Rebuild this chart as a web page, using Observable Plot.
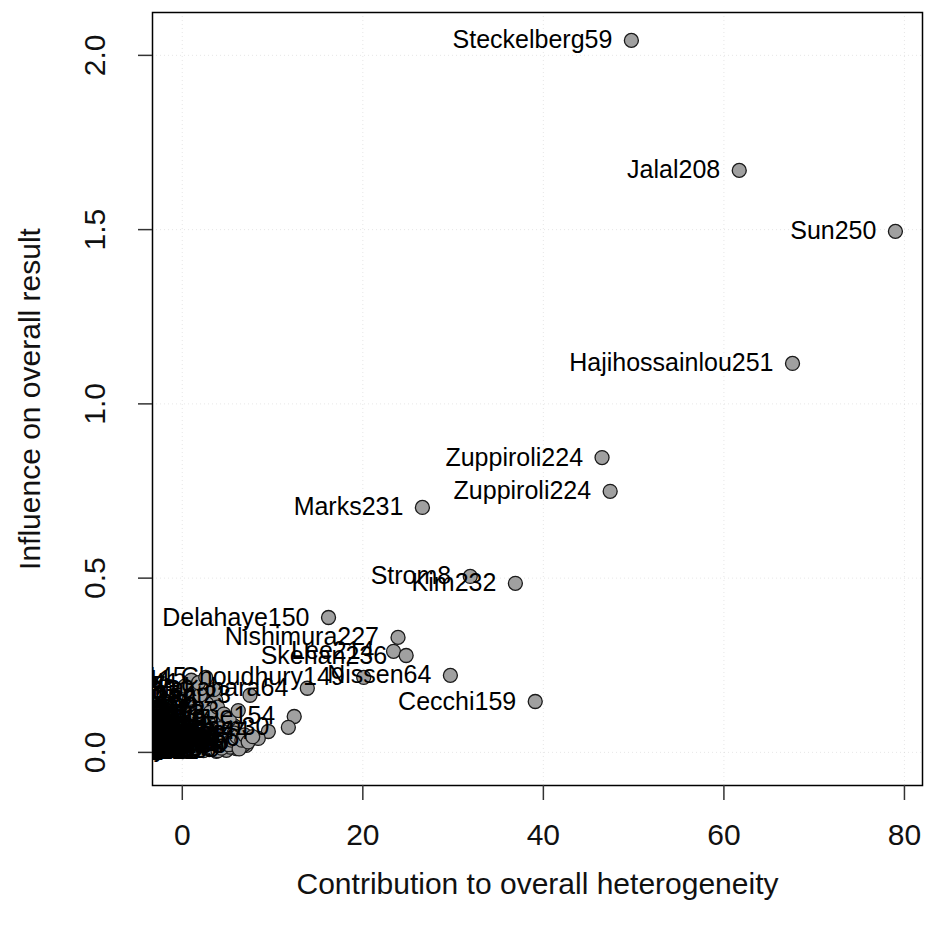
<!DOCTYPE html>
<html><head><meta charset="utf-8">
<script src="https://cdn.jsdelivr.net/npm/d3@7"></script>
<script src="https://cdn.jsdelivr.net/npm/@observablehq/plot@0.6"></script>
<style>body{margin:0;background:#fff}</style>
</head><body><div id="chart"></div>
<script>
const studies = [
  "Steckelberg59","Jalal208","Sun250","Hajihossainlou251","Zuppiroli224","Zuppiroli224","Marks231",
  "Strom8","Kim232","Delahaye150","Nishimura227","Lee214","Skehan236","Nissen64","Choudhury149","Cecchi159",
  "Nakahara64","Renaut23","Duque154","Desai11","Lam30","Muir44","Novak66","Oka90","Pires99","Rudd105","Seo111",
  "Bayer12","Chen37","Dahl41","Egan45","Fox52","Gomez58","Hart63","Ito71","Jones77","Khan82","Lopez88","Moss93",
  "Nagy97","Ortiz102","Park106","Quinn110","Rossi115","Singh119","Tan123","Ueda127","Vega131","Wong135","Xu139",
  "Yang143","Zhou147","Abe152","Berg156","Cruz161","Diaz165","Ellis169","Faro173","Gill177","Holm181","Iyer185",
  "Jain189","Kato193","Lund197","Mori201","Noor205","Olsen209","Pham213","Reis217","Sato221","Toth226","Urbe229",
  "Voss233","Wahl237","Yoon241","Zhang245","Amin249",
  "Adams3","Baker5","Clark7","Davis9","Evans13","Ford15","Grant17","Hill19","Irwin21","James25",
  "King27","Lewis29","Mills31","Nash33","Owen35","Price39","Reed43","Shaw47","Todd49","Vance51",
  "Ward53","York55","Allen57","Brown61","Cole65","Dunn67","Elias69","Frost73","Gray75","Hayes79",
  "Ives81","Jung83","Kerr85","Lowe87","Marsh89","Nolan91","Orr95","Pratt101","Rowe103","Sims107",
  "Tate109","Upton113","Vale117","West121","Young125","Zane129","Ames133","Bond137","Cobb141","Dean145"
];
const contribution = [
  49.75,61.7,79.0,67.6,46.5,47.4,26.6,
  31.9,36.9,16.2,23.9,23.4,24.8,29.7,20.1,39.1,
  13.85,7.5,12.4,1.0,11.75,9.53,8.42,7.09,5.98,4.88,3.77,
  0.05,0.2,0.4,0.6,0.8,1.0,1.2,1.4,1.6,1.8,2.0,2.2,
  2.4,2.6,2.8,3.0,3.2,3.4,3.6,3.9,4.1,4.4,4.7,
  5.0,5.3,5.6,6.0,6.4,6.8,0.1,0.3,0.7,0.9,1.3,
  1.7,2.1,2.5,2.9,3.3,0.5,1.1,1.9,4.3,3.7,0.2,
  1.5,-0.1,0.0,5.8,4.9,
  0.15,0.35,0.55,0.75,0.95,1.15,1.35,1.55,1.75,1.95,
  2.15,2.35,2.55,2.75,2.95,3.15,3.35,3.55,3.75,3.95,
  4.15,4.35,4.55,4.75,4.95,5.15,5.45,5.75,6.05,6.3,
  6.6,6.9,7.3,7.8,0.45,1.05,1.6,2.3,2.7,3.1,
  3.9,4.6,5.2,0.8,2.0,3.5,6.2,0.3,1.8,2.6
];
const influence = [
  2.043,1.670,1.495,1.116,0.846,0.749,0.703,
  0.505,0.485,0.387,0.330,0.290,0.278,0.221,0.215,0.146,
  0.184,0.164,0.103,0.207,0.072,0.060,0.040,0.020,0.011,0.006,0.003,
  0.002,0.010,0.004,0.018,0.007,0.025,0.012,0.035,0.005,0.028,0.045,0.015,
  0.060,0.022,0.038,0.008,0.052,0.030,0.070,0.018,0.042,0.026,0.058,
  0.034,0.015,0.048,0.028,0.040,0.022,0.040,0.065,0.050,0.085,0.072,
  0.095,0.080,0.110,0.090,0.125,0.120,0.140,0.130,0.100,0.150,0.160,
  0.175,0.020,0.090,0.075,0.085,
  0.030,0.045,0.028,0.060,0.012,0.050,0.020,0.065,0.010,0.070,
  0.030,0.005,0.050,0.012,0.065,0.025,0.010,0.040,0.055,0.005,
  0.068,0.012,0.030,0.045,0.060,0.022,0.035,0.055,0.045,0.010,
  0.035,0.050,0.030,0.045,0.095,0.110,0.125,0.100,0.140,0.115,
  0.130,0.110,0.095,0.155,0.165,0.180,0.120,0.190,0.200,0.215
];
const xTicks = [0, 20, 40, 60, 80];
const yTicks = [0, 0.5, 1.0, 1.5, 2.0];
const xTitle = "Contribution to overall heterogeneity";
const yTitle = "Influence on overall result";

const data = studies.map((s, i) => ({study: s, x: contribution[i], y: influence[i]}));
const font = "'Liberation Sans', Arial, Helvetica, sans-serif";

const chart = Plot.plot({
  width: 927, height: 932,
  marginLeft: 152, marginRight: 5, marginTop: 12, marginBottom: 147,
  style: {fontFamily: font, background: "#fff", color: "#000"},
  x: {domain: [-3.3, 82]},
  y: {domain: [-0.095, 2.123]},
  marks: [
    Plot.gridX(xTicks, {stroke: "#cfcfcf", strokeOpacity: 0.5, strokeDasharray: "1,3"}),
    Plot.gridY(yTicks, {stroke: "#cfcfcf", strokeOpacity: 0.5, strokeDasharray: "1,3"}),
    Plot.dot(data, {x: "x", y: "y", r: 7, fill: "#a0a0a0", stroke: "#1a1a1a", strokeWidth: 1.3}),
    Plot.text(data, {x: "x", y: "y", text: "study", textAnchor: "end", dx: -19, fontSize: 25, fill: "#000", clip: true}),
    Plot.frame({stroke: "#000", strokeWidth: 1.5}),
    Plot.axisX({ticks: xTicks, tickSize: 15, tickFormat: () => "", label: null, stroke: "#333", strokeWidth: 1.5}),
    Plot.axisY({ticks: yTicks, tickSize: 14, tickFormat: () => "", label: null, stroke: "#333", strokeWidth: 1.5}),
    Plot.text(xTicks, {x: d => d, text: d => String(d), frameAnchor: "bottom", dy: 50, lineAnchor: "middle", fontSize: 30, fill: "#111"}),
    Plot.text(yTicks, {y: d => d, text: d => d.toFixed(1), frameAnchor: "left", dx: -57, rotate: -90, lineAnchor: "middle", textAnchor: "middle", fontSize: 30, fill: "#111"}),
    Plot.text([xTitle], {text: d => d, frameAnchor: "bottom", dy: 99, lineAnchor: "middle", textAnchor: "middle", fontSize: 30, fill: "#111"}),
    Plot.text([yTitle], {text: d => d, frameAnchor: "left", dx: -122, rotate: -90, lineAnchor: "middle", textAnchor: "middle", fontSize: 30, fill: "#111"})
  ]
});
document.getElementById("chart").appendChild(chart);
</script>
</body></html>
